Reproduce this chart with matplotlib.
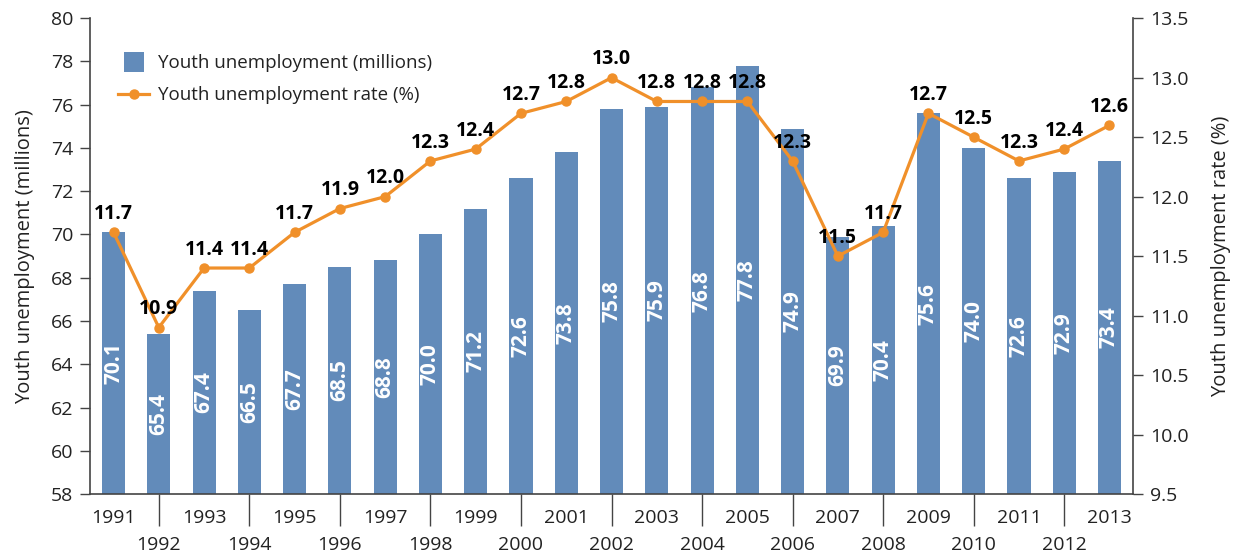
import matplotlib
matplotlib.use("Agg")
import matplotlib.pyplot as plt
from matplotlib.lines import Line2D
from matplotlib.patches import Patch, Rectangle
from matplotlib.legend_handler import HandlerPatch

years = [1991, 1992, 1993, 1994, 1995, 1996, 1997, 1998, 1999, 2000, 2001, 2002,
         2003, 2004, 2005, 2006, 2007, 2008, 2009, 2010, 2011, 2012, 2013]
unemployment = [70.1, 65.4, 67.4, 66.5, 67.7, 68.5, 68.8, 70.0, 71.2, 72.6, 73.8, 75.8,
                75.9, 76.8, 77.8, 74.9, 69.9, 70.4, 75.6, 74.0, 72.6, 72.9, 73.4]
rate = [11.7, 10.9, 11.4, 11.4, 11.7, 11.9, 12.0, 12.3, 12.4, 12.7, 12.8, 13.0,
        12.8, 12.8, 12.8, 12.3, 11.5, 11.7, 12.7, 12.5, 12.3, 12.4, 12.6]

bar_color = "#628bba"
line_color = "#f0902a"
text_color = "#222222"
FS = 14

plt.rcParams['font.family'] = ['Open Sans', 'DejaVu Sans']
plt.rcParams['font.size'] = FS

fig = plt.figure(figsize=(12.36, 5.52), dpi=100)
ax = fig.add_axes([0.0728, 0.105, 0.9167 - 0.0728, 0.967 - 0.105])
ax2 = ax.twinx()

x = list(range(len(years)))
ax.bar(x, unemployment, width=0.51, color=bar_color, zorder=2)
ax.set_ylim(58, 80)
ax.set_xlim(-0.52, 22.52)
ax.set_yticks(range(58, 81, 2))
for xi, v in zip(x, unemployment):
    ax.text(xi, (v + 58) / 2, f"{v:.1f}", rotation=90, ha='center', va='center',
            color='white', fontsize=15, fontweight='bold', zorder=3)

ax2.plot(x, rate, color=line_color, lw=2.3, marker='o', ms=6.5, zorder=4)
ax2.set_ylim(9.5, 13.5)
ax2.set_yticks([9.5 + 0.5 * i for i in range(9)])
ax2.set_yticklabels([f"{9.5 + 0.5 * i:.1f}" for i in range(9)])
for xi, r in zip(x, rate):
    ax2.annotate(f"{r:.1f}", (xi, r), xytext=(0, 6), textcoords='offset points',
                 ha='center', va='bottom', fontsize=14, fontweight='bold',
                 color='black', zorder=5)

# x tick labels: odd years on first row, even years on second row with long ticks
odd = [i for i in x if years[i] % 2 == 1]
even = [i for i in x if years[i] % 2 == 0]
ax.set_xticks(odd)
ax.set_xticklabels([str(years[i]) for i in odd])
ax.set_xticks(even, minor=True)
ax.set_xticklabels([str(years[i]) for i in even], minor=True)
ax.tick_params(axis='x', which='major', length=0, pad=10.5, labelsize=FS, labelcolor=text_color)
ax.tick_params(axis='x', which='minor', length=23, width=1, pad=7, labelsize=FS,
               labelcolor=text_color, color='#444444')

for a in (ax, ax2):
    a.spines['top'].set_visible(False)
    for s in ('left', 'right', 'bottom'):
        a.spines[s].set_color('#444444')
        a.spines[s].set_linewidth(1.2)
ax.spines['right'].set_visible(False)
ax2.spines['left'].set_visible(False)
ax2.spines['bottom'].set_visible(False)

ax.tick_params(axis='y', length=7, width=1, color='#444444', labelsize=FS, pad=5,
               labelcolor=text_color)
ax2.tick_params(axis='y', length=7, width=1, color='#444444', labelsize=FS, pad=5,
                labelcolor=text_color)

ax.set_ylabel("Youth unemployment (millions)", fontsize=14.5, color=text_color, labelpad=11)
ax2.set_ylabel("Youth unemployment rate (%)", fontsize=14.5, color=text_color, labelpad=16)

ax2.set_zorder(ax.get_zorder() + 1)
ax2.patch.set_visible(False)


def square_patch(legend, orig_handle, xdescent, ydescent, width, height, fontsize):
    s = 20 * 72 / 100.0
    return Rectangle((width / 2 - s / 2 - xdescent, height / 2 - s / 2 - ydescent), s, s)


handles = [Patch(facecolor=bar_color, edgecolor='none'),
           Line2D([0], [0], color=line_color, lw=2.3, marker='o', ms=6.5)]
leg = ax.legend(handles, ["Youth unemployment (millions)", "Youth unemployment rate (%)"],
                loc='upper left', bbox_to_anchor=(0.011, 0.96), frameon=False,
                fontsize=13.5, handlelength=1.65, handletextpad=0.45, labelspacing=0.75,
                handler_map={Patch: HandlerPatch(patch_func=square_patch)})
for t in leg.get_texts():
    t.set_color(text_color)

fig.savefig("out.png", dpi=100)
